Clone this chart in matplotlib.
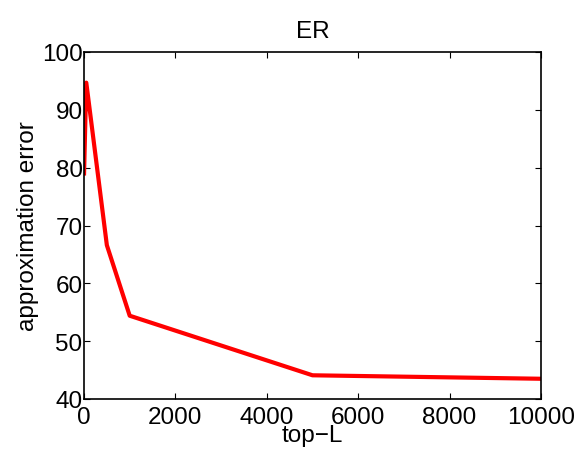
import numpy as np
import matplotlib
matplotlib.use('Agg')
import matplotlib.pyplot as plt

# top-L values and the approximation error
top_l = [1, 50, 500, 1000, 5000, 10000]
approx_err = [79.0, 94.7, 66.6, 54.4, 44.1, 43.5]

plt.rcParams['font.family'] = ['Liberation Sans', 'DejaVu Sans']

fig = plt.figure(figsize=(5.78, 4.52), dpi=100)
ax = fig.add_axes([84 / 578, 52 / 452, 457 / 578, 347 / 452])

ax.plot(top_l, approx_err, color='red', linewidth=3)

ax.set_xlim(0, 10000)
ax.set_ylim(40, 100)
ax.set_xticks(np.arange(0, 10001, 2000))
ax.set_yticks(np.arange(40, 101, 10))
ax.tick_params(direction='in', top=True, right=True, labelsize=17.5,
               length=4, width=0.8, pad=1)
ax.tick_params(axis='x', pad=5)
for s in ax.spines.values():
    s.set_linewidth(1.2)

ax.set_title('ER', fontsize=17.5, pad=11)
ax.set_xlabel('top\u2212L', fontsize=17.5, labelpad=-3)
ax.set_ylabel('approximation error', fontsize=17.5, labelpad=2)

fig.savefig('out.png', dpi=100)
